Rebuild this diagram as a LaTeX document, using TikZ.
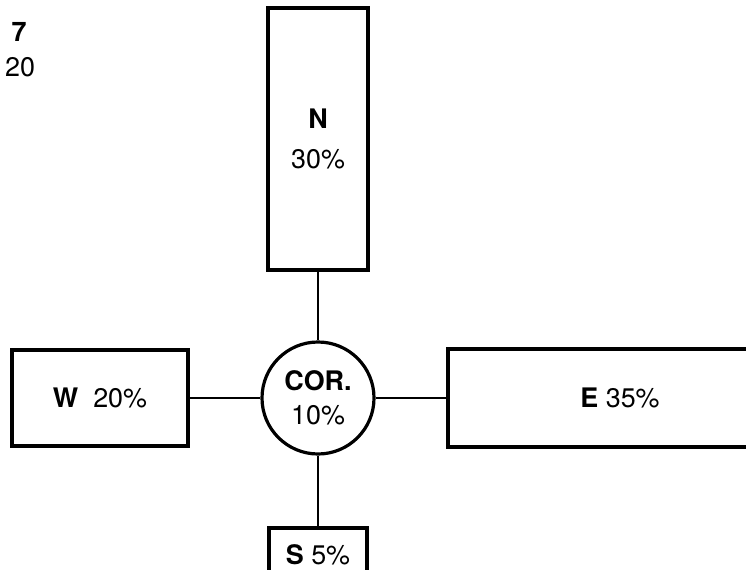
\documentclass[tikz,border=0pt]{standalone}
\usepackage{fontspec}
\setmainfont{TeX Gyre Heros}

\begin{document}
\begin{tikzpicture}[x=1bp, y=-1bp,
    every node/.style={font=\fontsize{27}{34}\selectfont},
    caja/.style={draw, line width=3.2bp, inner sep=0pt, align=center},
    linea/.style={line width=2.8bp}]

    % Marco de la pagina
    \useasboundingbox (0,0) rectangle (746,570);
    \clip (0,0) rectangle (746,570);

    % Numeros en la esquina
    \node (fig) at (19,32) {\textbf{7}};
    \node (pag) at (20,67) {20};

    % Centro
    \node[caja, circle, minimum size=112bp] (cor) at (318,398) {\textbf{COR.}\\10\%};

    % Norte
    \node[caja, minimum width=100bp, minimum height=262bp] (norte) at (318,139) {\textbf{N}\\[6bp]30\%};

    % Oeste
    \node[caja, minimum width=176bp, minimum height=96bp] (oeste) at (100,398) {\textbf{W}\ \ 20\%};

    % Este (cortado por el borde)
    \node[caja, minimum width=344bp, minimum height=98bp] (este) at (620,398) {\textbf{E} 35\%};

    % Sur (cortado por el borde)
    \node[caja, minimum width=98bp, minimum height=54bp] (sur) at (318,555) {\textbf{S} 5\%};

    % Lineas al centro
    \draw[linea] (norte.south) -- (cor.north);
    \draw[linea] (oeste.east) -- (cor.west);
    \draw[linea] (cor.east) -- (este.west);
    \draw[linea] (cor.south) -- (sur.north);

\end{tikzpicture}
\end{document}
